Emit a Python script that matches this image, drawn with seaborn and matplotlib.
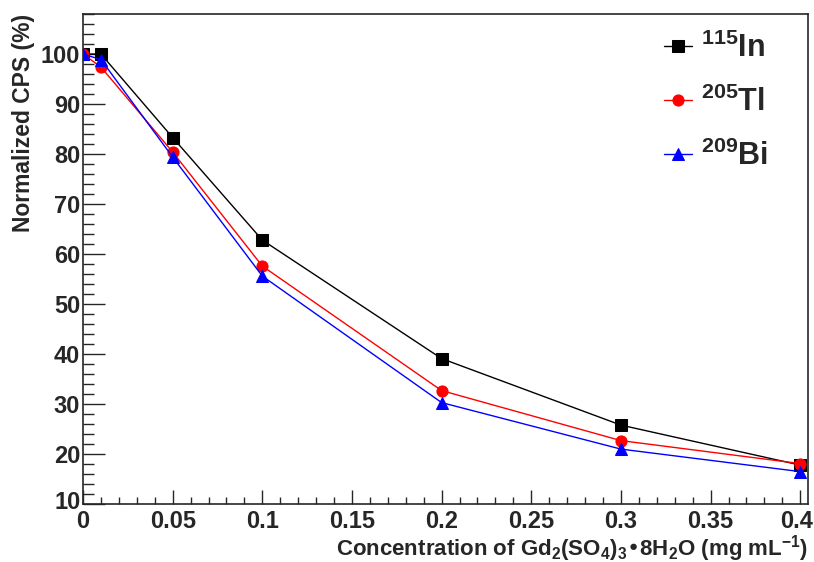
import numpy as np
import pandas as pd
import matplotlib
matplotlib.use("Agg")
import matplotlib.pyplot as plt
import matplotlib.transforms as mtransforms
import seaborn as sns
from matplotlib.ticker import MultipleLocator

# Datos
conc = [0, 0.01, 0.05, 0.1, 0.2, 0.3, 0.4]
cps_in = [100, 100, 83.3, 62.8, 39.1, 25.8, 17.8]
cps_tl = [100, 97.4, 80.4, 57.6, 32.7, 22.7, 18.1]
cps_bi = [100, 98.9, 79.4, 55.6, 30.3, 21.0, 16.5]
labels = [r"$^{115}$In", r"$^{205}$Tl", r"$^{209}$Bi"]
colors = ["black", "red", "blue"]
markers = ["s", "o", "^"]

sns.set_style("ticks")
plt.rcParams["font.family"] = ["Liberation Sans", "DejaVu Sans"]
plt.rcParams["font.weight"] = "bold"
plt.rcParams["mathtext.default"] = "regular"

fig = plt.figure(figsize=(8.14, 5.62), dpi=100)
ax = fig.add_axes([0.102, 0.103, 0.891, 0.872])

for serie, lab, c, m in zip([cps_in, cps_tl, cps_bi], labels, colors, markers):
    df = pd.DataFrame({"conc": conc, "cps": serie})
    sns.lineplot(data=df, x="conc", y="cps", ax=ax, color=c, marker=m,
                 markersize=8, markeredgecolor=c, linewidth=1, label=lab)

ax.set_xlim(0, 0.4045)
ax.set_ylim(10, 108)
ax.xaxis.set_major_locator(MultipleLocator(0.05))
ax.xaxis.set_minor_locator(MultipleLocator(0.01))
ax.yaxis.set_major_locator(MultipleLocator(10))
ax.yaxis.set_minor_locator(MultipleLocator(2))
ax.xaxis.set_major_formatter(plt.FuncFormatter(lambda v, p: "0" if v == 0 else f"{v:g}"))

ax.tick_params(axis="both", which="both", direction="in", top=False, right=False,
               labelsize=17, width=1)
ax.tick_params(axis="y", which="major", length=16, pad=2)
ax.tick_params(axis="y", which="minor", length=8)
ax.tick_params(axis="x", which="major", length=10, pad=4)
ax.tick_params(axis="x", which="minor", length=5)
for lab in ax.get_xticklabels() + ax.get_yticklabels():
    lab.set_fontweight("bold")
for s in ax.spines.values():
    s.set_linewidth(1.2)
    s.set_visible(True)

# pequeños desplazamientos: "0.4" a la izquierda y "10" hacia arriba
fig.canvas.draw()
for tk in ax.xaxis.get_major_ticks():
    if abs(tk.get_loc() - 0.4) < 1e-9:
        tk.label1.set_transform(tk.label1.get_transform() +
                                mtransforms.ScaledTranslation(-4 / 100, 0, fig.dpi_scale_trans))
for tk in ax.yaxis.get_major_ticks():
    if abs(tk.get_loc() - 10) < 1e-9:
        tk.label1.set_transform(tk.label1.get_transform() +
                                mtransforms.ScaledTranslation(0, 4 / 100, fig.dpi_scale_trans))

ax.set_xlabel(r"Concentration of Gd$_2$(SO$_4$)$_3$•8H$_2$O (mg mL$^{-1}$)",
              fontsize=16, fontweight="bold", loc="right", labelpad=0)
ax.set_ylabel("Normalized CPS (%)", fontsize=16.5, fontweight="bold", loc="top", labelpad=4)

leg = ax.legend(loc="upper right", frameon=False, fontsize=22, handlelength=0.9,
                handletextpad=0.3, labelspacing=0.75, borderaxespad=0.2,
                bbox_to_anchor=(0.97, 1.0))
for t in leg.get_texts():
    t.set_fontweight("bold")

fig.savefig("out.png", dpi=100)
